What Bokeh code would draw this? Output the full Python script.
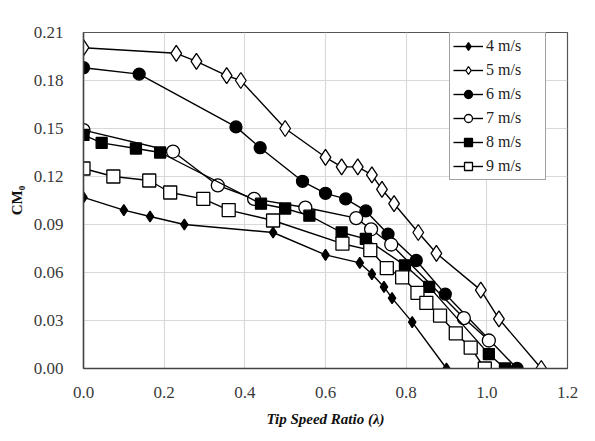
from bokeh.plotting import figure
from bokeh.models import Range1d, Legend, LegendItem, FixedTicker, CustomJSTickFormatter
from bokeh.embed import file_html
from bokeh.resources import INLINE

# ---- data ----
x4 = [0.0, 0.10, 0.165, 0.25, 0.47, 0.60, 0.685, 0.715, 0.745, 0.765, 0.815, 0.90]
y4 = [0.107, 0.099, 0.095, 0.090, 0.085, 0.071, 0.066, 0.059, 0.051, 0.044, 0.029, 0.0]

x5 = [0.0, 0.23, 0.28, 0.355, 0.39, 0.50, 0.60, 0.64, 0.68, 0.715, 0.74, 0.77, 0.83, 0.875, 0.985, 1.03, 1.135]
y5 = [0.2005, 0.197, 0.192, 0.183, 0.180, 0.150, 0.132, 0.126, 0.126, 0.121, 0.112, 0.103, 0.085, 0.072, 0.049, 0.031, 0.0]

x6 = [0.0, 0.138, 0.378, 0.438, 0.543, 0.60, 0.65, 0.70, 0.755, 0.825, 0.897, 1.075]
y6 = [0.188, 0.184, 0.151, 0.138, 0.117, 0.1095, 0.106, 0.0985, 0.084, 0.0675, 0.0465, 0.0]

x7 = [0.0, 0.222, 0.333, 0.423, 0.55, 0.676, 0.713, 0.763, 0.943, 1.005]
y7 = [0.149, 0.1356, 0.1144, 0.106, 0.1006, 0.094, 0.087, 0.0775, 0.0315, 0.0175]

x8 = [0.0, 0.045, 0.13, 0.19, 0.44, 0.50, 0.56, 0.64, 0.70, 0.797, 0.857, 1.005, 1.045]
y8 = [0.146, 0.141, 0.1375, 0.135, 0.103, 0.100, 0.0955, 0.085, 0.081, 0.0645, 0.051, 0.009, 0.0]

x9 = [0.0, 0.074, 0.163, 0.215, 0.297, 0.36, 0.47, 0.642, 0.711, 0.752, 0.79, 0.828, 0.85, 0.884, 0.923, 0.96, 0.995]
y9 = [0.125, 0.120, 0.1175, 0.110, 0.106, 0.099, 0.0925, 0.078, 0.074, 0.0627, 0.057, 0.0473, 0.041, 0.033, 0.022, 0.013, 0.0]

labels = ["4 m/s", "5 m/s", "6 m/s", "7 m/s", "8 m/s", "9 m/s"]
x_ticks = [0.0, 0.2, 0.4, 0.6, 0.8, 1.0, 1.2]
y_ticks = [0.0, 0.03, 0.06, 0.09, 0.12, 0.15, 0.18, 0.21]

FONT = "Liberation Serif"

p = figure(width=587, height=433, output_backend="svg", toolbar_location=None,
           x_range=Range1d(0, 1.2), y_range=Range1d(0, 0.21),
           min_border_left=83, min_border_top=32, min_border_right=20, min_border_bottom=65)

p.xaxis.ticker = FixedTicker(ticks=x_ticks)
p.yaxis.ticker = FixedTicker(ticks=y_ticks)
p.xaxis.formatter = CustomJSTickFormatter(code="return tick.toFixed(1);")
p.yaxis.formatter = CustomJSTickFormatter(code="return tick.toFixed(2);")

for ax in (p.xaxis, p.yaxis):
    ax.major_label_text_font = FONT
    ax.major_label_text_font_size = "17px"
    ax.major_label_text_color = "#3a3a3a"
    ax.major_tick_line_color = None
    ax.minor_tick_line_color = None
    ax.axis_line_color = "#444444"
    ax.axis_line_width = 1.5
    ax.axis_label_text_font = FONT
    ax.axis_label_text_font_size = "15px"
    ax.axis_label_text_color = "#111111"

p.xaxis.axis_label = "Tip Speed Ratio (λ)"
p.xaxis.axis_label_text_font_style = "bold italic"
p.xaxis.major_label_standoff = 12
p.xaxis.axis_label_standoff = 10
p.yaxis.axis_label = "CM₀"
p.yaxis.axis_label_text_font_style = "bold"
p.yaxis.major_label_standoff = 14
p.yaxis.axis_label_standoff = 6

p.grid.grid_line_color = "#d9d9d9"
p.grid.grid_line_width = 1.2
p.outline_line_color = "#555555"
p.outline_line_width = 1.2

items = []
series = [
    (x4, y4, "diamond", 11, "black"),
    (x5, y5, "diamond", 16, "white"),
    (x6, y6, "circle", 12, "black"),
    (x7, y7, "circle", 13, "white"),
    (x8, y8, "square", 11, "black"),
    (x9, y9, "square", 13, "white"),
]
for (xs, ys, mk, sz, fc), lab in zip(series, labels):
    ln = p.line(xs, ys, line_color="black", line_width=1.4)
    sc = p.scatter(xs, ys, marker=mk, size=sz, fill_color=fc, line_color="black", line_width=1.3)
    items.append(LegendItem(label=lab, renderers=[ln, sc]))

legend = Legend(items=items, location=(366, 188))
legend.label_text_font = FONT
legend.label_text_font_size = "16px"
legend.label_text_color = "#222222"
legend.glyph_width = 30
legend.glyph_height = 20
legend.label_height = 20
legend.label_width = 56
legend.label_standoff = 3
legend.spacing = 4
legend.padding = 3
legend.margin = 0
legend.border_line_color = "#444444"
legend.border_line_width = 1.2
legend.background_fill_color = "white"
legend.background_fill_alpha = 1.0
p.add_layout(legend)

open("out.html", "w").write(file_html(p, INLINE))
